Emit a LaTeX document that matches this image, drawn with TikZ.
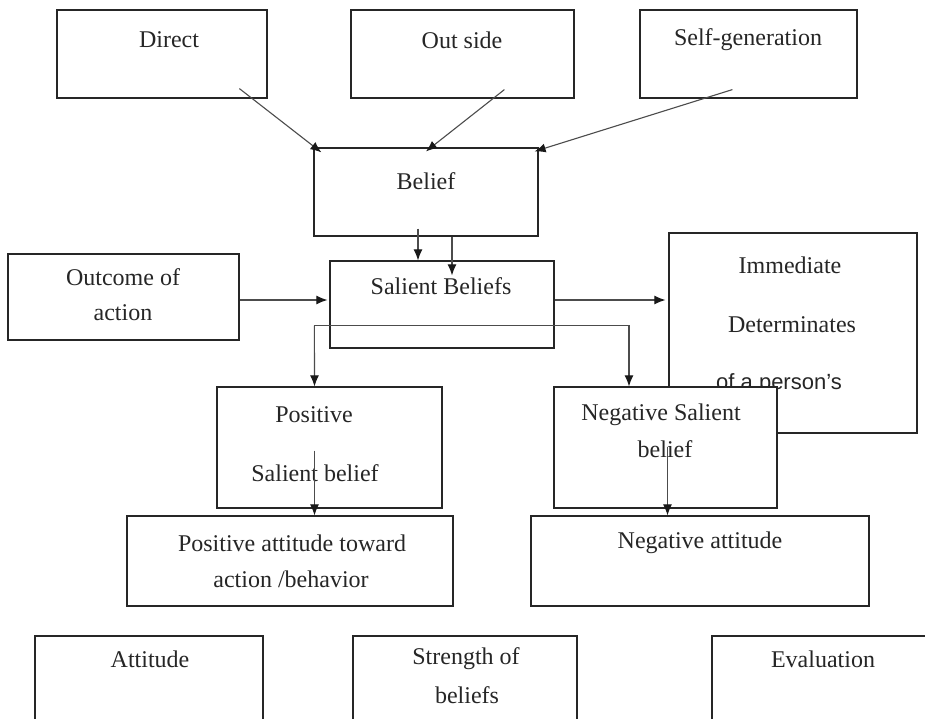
\documentclass[tikz,border=0pt]{standalone}
\usepackage{fontspec}
\setmainfont{Liberation Serif}
\newfontfamily\sansf{Liberation Sans}
\usetikzlibrary{arrows.meta,calc}
\begin{document}
\begin{tikzpicture}[x=1pt,y=-1pt,
 box/.style={draw=black!85, line width=1.2pt, fill=white, inner sep=0pt, rectangle},
 lbl/.style={text=black!85, font=\fontsize{24}{27}\selectfont, inner sep=0pt, anchor=center},
 arr/.style={draw=black!70, line width=1.1pt, -{Latex[length=11pt,width=9pt,color=black!90]}},
 ln/.style={draw=black!70, line width=1.1pt}]
\useasboundingbox (0,0) rectangle (925,718);
\clip (0,0) rectangle (925,718);
\fill[white] (0,0) rectangle (925,718);
% boxes
\node[box, minimum width=210pt, minimum height=88pt] (direct) at (162,54) {};
\node[box, minimum width=223pt, minimum height=88pt] (outside) at (462.5,54) {};
\node[box, minimum width=217pt, minimum height=88pt] (selfgen) at (748.5,54) {};
\node[box, minimum width=224pt, minimum height=88pt] (belief) at (426,192) {};
\node[box, minimum width=231pt, minimum height=86pt] (outcome) at (123.5,297) {};
\node[box, minimum width=224pt, minimum height=87pt] (salient) at (442,304.5) {};
\node[box, minimum width=248pt, minimum height=200pt] (immediate) at (793,333) {};
\node[lbl] (immT1) at (790,265) {Immediate};
\node[lbl] (immT2) at (792,325) {Determinates};
\node[lbl, font=\sansf\fontsize{22}{25}\selectfont] (immT3) at (779,384) {of a person’s};
\node[box, minimum width=225pt, minimum height=121pt] (possal) at (329.5,447.5) {};
\node[box, minimum width=223pt, minimum height=121pt] (negsal) at (665.5,447.5) {};
\node[box, minimum width=326pt, minimum height=90pt] (posatt) at (290,561) {};
\node[box, minimum width=338pt, minimum height=90pt] (negatt) at (700,561) {};
\node[box, minimum width=228pt, minimum height=90pt] (attitude) at (149,681) {};
\node[box, minimum width=224pt, minimum height=90pt] (strength) at (465,681) {};
\node[box, minimum width=224pt, minimum height=90pt] (evaluation) at (824,681) {};
% texts
\node[lbl] (directT) at (169,40) {Direct};
\node[lbl] (outsideT) at (462,40) {Out side};
\node[lbl] (selfgenT) at (748,40) {Self-generation};
\node[lbl] (beliefT) at (426,181) {Belief};
\node[lbl] (outcomeT1) at (123,277) {Outcome of};
\node[lbl] (outcomeT2) at (123,313) {action};
\node[lbl] (salientT) at (441,286) {Salient Beliefs};
\node[lbl] (possalT1) at (314,415) {Positive};
\node[lbl] (possalT2) at (315,473) {Salient belief};
\node[lbl] (negsalT1) at (661,415) {Negative Salient};
\node[lbl] (negsalT2) at (665,449) {belief};
\node[lbl] (posattT1) at (292,543) {Positive attitude toward};
\node[lbl] (posattT2) at (291,579) {action /behavior};
\node[lbl] (negattT) at (700,543) {Negative attitude};
\node[lbl] (attitudeT) at (150,659) {Attitude};
\node[lbl] (strengthT1) at (466,659) {Strength of};
\node[lbl] (strengthT2) at (467,695) {beliefs};
\node[lbl] (evaluationT) at (823,659) {Evaluation};
% connectors
\draw[arr] ($(direct.south west)+(183,-10)$) -- ($(belief.north west)+(8,5)$);
\draw[arr] ($(outside.south west)+(154,-9)$) -- ($(belief.north)+(0,4)$);
\draw[arr] ($(selfgen.south west)+(93,-9)$) -- ($(belief.north east)+(-4,4)$);
\draw[arr] ($(belief.south)+(-8,-8)$) -- ($(salient.north)+(-24,0)$);
\draw[arr] ($(belief.south)+(26,0)$) -- ($(salient.north)+(10,15)$);
\draw[arr] ($(outcome.east)+(0,3)$) -- ($(salient.west)+(-2,-4.5)$);
\draw[arr] ($(salient.east)+(0,-4.5)$) -- ($(immediate.west)+(-3,-33)$);
\coordinate (branch) at ($(salient.south west)+(-15,-23)$);
\draw[arr] (branch) -- ($(possal.north)+(-15,0)$);
\draw[arr] (branch) -| ($(negsal.north)+(-36.5,0)$);
\draw[arr] ($(possal.south)+(-15,-58)$) -- ($(posatt.north)+(24.5,0)$);
\draw[arr] ($(negsal.south)+(2,-62)$) -- ($(negatt.north)+(-32.5,0)$);
\end{tikzpicture}
\end{document}
